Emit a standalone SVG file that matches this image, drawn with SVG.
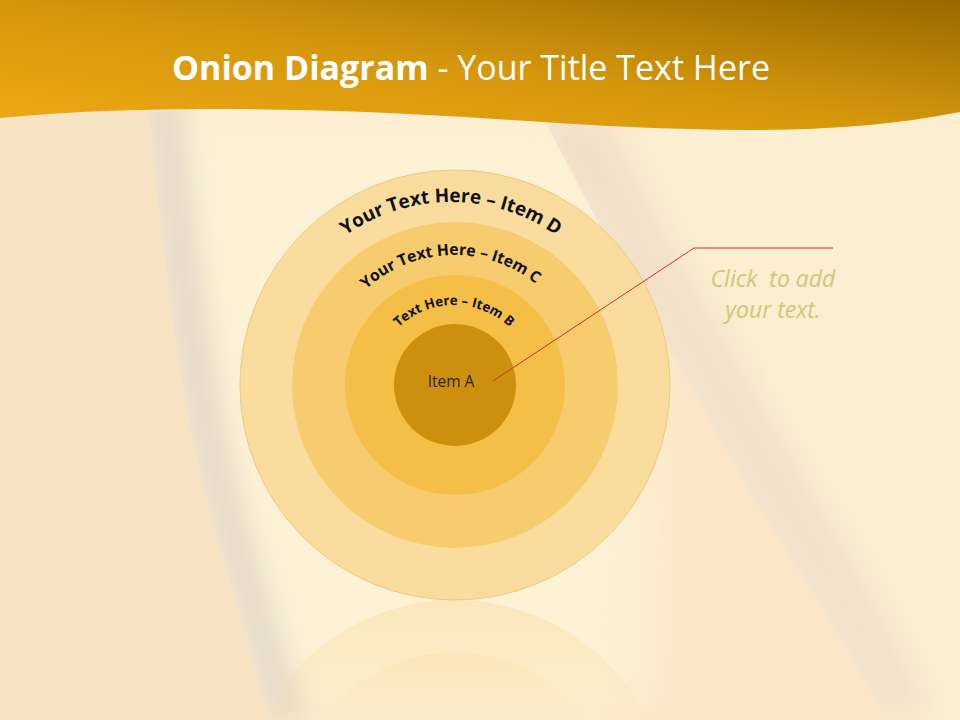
<svg xmlns="http://www.w3.org/2000/svg" width="960" height="720" viewBox="0 0 960 720">
  <defs>
    <linearGradient id="hdr" x1="0" y1="1" x2="1" y2="0">
      <stop offset="0" stop-color="#EEAA14"/>
      <stop offset="0.5" stop-color="#D4960C"/>
      <stop offset="1" stop-color="#9A6800"/>
    </linearGradient>
    <filter id="blurS" x="-50%" y="-50%" width="200%" height="200%">
      <feGaussianBlur stdDeviation="14"/>
    </filter>
    <filter id="blurM" x="-50%" y="-50%" width="200%" height="200%">
      <feGaussianBlur stdDeviation="22"/>
    </filter>
    <filter id="blurL" x="-50%" y="-50%" width="200%" height="200%">
      <feGaussianBlur stdDeviation="30"/>
    </filter>
    <clipPath id="rightOfLeftEdge">
      <path d="M147 100 C 160 230, 180 420, 217 538 C 235 600, 255 670, 270 720 L 960 720 L 960 100 Z"/>
    </clipPath>
    <clipPath id="aboveDiag">
      <path d="M547 100 L 547 125 L 610 245 L 677 363 L 753 499 L 827 616 L 887 720 L 960 720 L 960 100 Z"/>
    </clipPath>
    <linearGradient id="fade" x1="0" y1="0" x2="0" y2="1">
      <stop offset="0" stop-color="#fff" stop-opacity="0.5"/>
      <stop offset="1" stop-color="#fff" stop-opacity="0.05"/>
    </linearGradient>
    <mask id="refl" maskUnits="userSpaceOnUse" x="0" y="600" width="960" height="120">
      <rect x="0" y="600" width="960" height="120" fill="url(#fade)"/>
    </mask>
    <path id="arcD" d="M 268 385 A 183 183 0 0 1 634 385"/>
    <path id="arcC" d="M 324 385 A 130 130 0 0 1 584 385"/>
    <path id="arcB" d="M 374 385 A 80 80 0 0 1 534 385"/>
  </defs>
  <style>
    .arc { font-family: "Open Sans", "Liberation Sans", sans-serif; font-weight: bold; fill: #111; }
    .sans { font-family: "Open Sans", "Liberation Sans", sans-serif; }
  </style>

  <!-- background -->
  <rect width="960" height="720" fill="#FBE6C7"/>
  <path d="M0 100 L147 100 C 160 230, 180 420, 217 538 C 235 600, 255 670, 270 720 L 0 720 Z" fill="#F8E3C3"/>
  <g clip-path="url(#rightOfLeftEdge)">
    <path d="M120 100 L 600 100 C 640 300, 660 450, 640 720 L 230 720 Z" fill="#FDF2D6" filter="url(#blurL)"/>
    <path d="M147 100 C 160 230, 180 420, 217 538 C 235 600, 255 670, 270 720 L 305 720 C 285 660, 265 590, 248 530 C 214 420, 194 230, 180 100 Z" fill="#DFD1C8" opacity="0.8" filter="url(#blurS)"/>
  </g>
  <g clip-path="url(#aboveDiag)">
    <rect x="540" y="100" width="420" height="620" fill="#FCEFD1"/>
    <path d="M520 110 L 610 245 L 677 363 L 753 499 L 827 616 L 887 720 L 930 720 L 870 600 L 795 470 L 720 340 L 650 215 L 600 110 Z" fill="#EBD5C7" opacity="0.75" filter="url(#blurM)"/>
  </g>
  <path d="M905 228 C 925 245, 945 265, 960 285" fill="none" stroke="#E2CCC8" stroke-width="3" opacity="0.5" filter="url(#blurS)"/>

  <!-- header -->
  <path d="M0 0 H960 V112 C 820 140, 660 130, 480 118 C 300 106, 120 106, 0 118 Z" fill="url(#hdr)"/>
  <text class="sans" x="471" y="80" text-anchor="middle" font-size="34" fill="#FFFFFF"><tspan font-weight="bold">Onion Diagram</tspan> - Your Title Text Here</text>

  <!-- reflection -->
  <g mask="url(#refl)">
    <circle cx="455" cy="815" r="215" fill="#F9DC9E"/>
    <circle cx="455" cy="815" r="163" fill="#F6CC70"/>
  </g>

  <!-- onion rings -->
  <g id="itemD">
    <circle cx="455" cy="385" r="215" fill="#FADD9E" stroke="#F0C97E" stroke-width="1"/>
  </g>
  <g id="itemC">
    <circle cx="455" cy="385" r="163" fill="#F6CC6F"/>
  </g>
  <g id="itemB">
    <circle cx="455" cy="385" r="110" fill="#F4BE47"/>
  </g>
  <g id="itemA">
    <circle cx="455" cy="385" r="61" fill="#CC900E"/>
    <text class="sans" x="451" y="387" text-anchor="middle" font-size="15.5" fill="#2E2100">Item A</text>
  </g>
  <g id="labels">
    <text class="arc" font-size="19"><textPath href="#arcD" startOffset="50%" text-anchor="middle">Your Text Here – Item D</textPath></text>
    <text class="arc" font-size="15.8"><textPath href="#arcC" startOffset="49%" text-anchor="middle">Your Text Here – Item C</textPath></text>
    <text class="arc" font-size="13.4"><textPath href="#arcB" startOffset="50%" text-anchor="middle">Text Here – Item B</textPath></text>
  </g>

  <!-- connector -->
  <g id="connectors">
    <polyline points="493,381 694,248 833,248" fill="none" stroke="#E0262A" stroke-width="1"/>
  </g>
  <g id="callout">
    <text class="sans" x="773" y="287" text-anchor="middle" font-style="italic" font-size="23" fill="#CBCA7C" xml:space="preserve">Click  to add</text>
    <text class="sans" x="773" y="318" text-anchor="middle" font-style="italic" font-size="23" fill="#CBCA7C">your text.</text>
  </g>
</svg>
